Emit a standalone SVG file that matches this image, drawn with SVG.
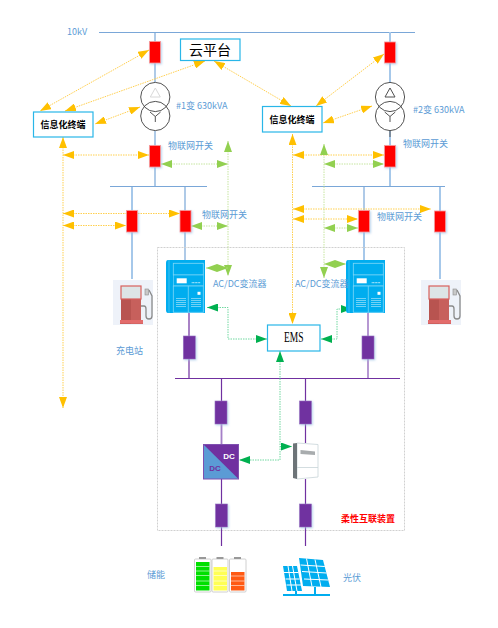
<svg xmlns="http://www.w3.org/2000/svg" xmlns:xlink="http://www.w3.org/1999/xlink" width="498" height="628" viewBox="0 0 498 628">
<style>
text{font-family:"Noto Sans CJK SC","Liberation Sans",sans-serif}
text.ser{font-family:"Liberation Serif",serif}
text.san{font-family:"Liberation Sans",sans-serif}
.lb{font-size:9px;fill:#5b9bd5}
.bl{fill:none;stroke:#7aa7d8;stroke-width:1.2}
.bw{fill:none;stroke:#a6c8ea;stroke-width:2}
.pl{fill:none;stroke:#7030a0;stroke-width:1.2}
.pw{fill:none;stroke:#a57fc8;stroke-width:1.6}
.red{fill:#ff0000;stroke:#f59a9a;stroke-width:.8;filter:url(#sh)}
.pu{fill:#7030a0;stroke:#9a70c0;stroke-width:.6;filter:url(#sh)}
.box{fill:#fff;stroke:#29b6e8;stroke-width:1.2}
.y{fill:none;stroke:#ffd050;stroke-width:1;stroke-dasharray:1.5 1;marker-start:url(#ay);marker-end:url(#ay)}
.g{fill:none;stroke:#c6e5a0;stroke-width:1;stroke-dasharray:1.5 1;marker-start:url(#ag);marker-end:url(#ag)}
.d{fill:none;stroke:#70d8a0;stroke-width:1;stroke-dasharray:1.5 1;marker-start:url(#ad);marker-end:url(#ad)}
.tr{fill:none;stroke:#404040;stroke-width:.9}
</style>
<defs>
<filter id="sh" x="-30%" y="-30%" width="170%" height="170%"><feDropShadow dx="1" dy="1" stdDeviation="1.2" flood-color="#9dc3e6" flood-opacity=".7"/></filter>
<marker id="ay" viewBox="0 0 11 8" refX="11" refY="4" markerWidth="11" markerHeight="8" markerUnits="userSpaceOnUse" orient="auto-start-reverse"><path d="M0 0L11 4L0 8Z" fill="#ffc000"/></marker>
<marker id="ag" viewBox="0 0 11 8" refX="11" refY="4" markerWidth="11" markerHeight="8" markerUnits="userSpaceOnUse" orient="auto-start-reverse"><path d="M0 0L11 4L0 8Z" fill="#92d050"/></marker>
<marker id="ad" viewBox="0 0 11 8" refX="11" refY="4" markerWidth="11" markerHeight="8" markerUnits="userSpaceOnUse" orient="auto-start-reverse"><path d="M0 0L11 4L0 8Z" fill="#00b050"/></marker>
<g id="cab">
<path d="M168 260H205V313H168Q166 313 166 310V263Q166 260 168 260Z" fill="#00adef"/>
<path d="M169 260V313" stroke="#4cc4f2" stroke-width=".8"/>
<rect x="173.3" y="263.3" width="30" height="11.7" fill="#00adef" stroke="#7fd8f8" stroke-width=".8"/>
<rect x="173.3" y="275" width="30" height="11" fill="#00adef" stroke="#7fd8f8" stroke-width=".6"/>
<rect x="176.7" y="278.3" width="10" height="5" fill="#fff"/>
<path d="M191.7 282.7H200.7" stroke="#d8f4ff" stroke-width="1" stroke-dasharray="1 .5"/>
<rect x="173.3" y="286" width="30" height="26.3" fill="#00adef" stroke="#7fd8f8" stroke-width=".8"/>
<path d="M188.3 286V312" stroke="#7fd8f8" stroke-width=".8"/>
<rect x="197.5" y="291.8" width="3" height="3" fill="#fff"/>
<path d="M176 298.5H186M176 300.5H186M176 302.5H186M176 304.5H186M176 306.5H186M191 298.5H201M191 300.5H201M191 302.5H201M191 304.5H201M191 306.5H201" stroke="#8fdcf8" stroke-width=".8"/>
</g>
<g id="pump">
<rect x="113" y="280" width="40" height="45" fill="#eef2f9"/>
<path d="M121 286H141V320H143V324H120V320H121Z" fill="#b85450"/>
<path d="M131 286H141V320H143V324H131Z" fill="#c7605c"/>
<rect x="120" y="320" width="23" height="3.5" fill="#e36c6c"/>
<rect x="121" y="286" width="20" height="13" fill="#dde5e6" stroke="#d9605c" stroke-width="1.2"/>
<path d="M141 306H144Q146 306 146 309V316Q146 319 149 319Q152 319 152 316V296L149 290" fill="none" stroke="#8a8a8a" stroke-width="1.3"/>
<rect x="145" y="289" width="3.5" height="6" fill="#c8c8c8" stroke="#8a8a8a" stroke-width=".6"/>
</g>
</defs>
<rect width="498" height="628" fill="#fff"/>

<g id="connectors">
<path class="bl" d="M99 32.5H415M110 186.5H207M312 186.5H445"/>
<path class="bl" d="M155 32V82M155 131V186M185 186V260"/>
<path class="bw" d="M132 187V279"/>
<path class="bw" d="M390 32V82M390 131V186M440 187V279M364 232V260"/>
<path class="bl" d="M364 187V210"/>
<path d="M390 131V137" stroke="#555" stroke-width="1"/>
<rect x="157.5" y="247.5" width="247" height="283" fill="none" stroke="#d0d0d0" stroke-width="1" stroke-dasharray="2 1"/>
<path class="pl" d="M189 313V378M175 378.5H400M221.500 378V444M305.500 378V443M221.500 479V546M305.500 479V546"/>
<path class="pw" d="M368 313V378M221.500 424V444"/>
<path class="y" d="M149 50L40 111"/>
<path class="y" d="M205 61L65 111"/>
<path class="y" d="M140 107L95 124"/>
<path class="y" d="M63 137V408"/>
<path class="y" d="M63 155H149"/>
<path class="y" d="M63 213.500H180"/>
<path class="y" d="M63 225.500H126"/>
<path class="y" d="M214 61L291 106"/>
<path class="y" d="M384 54L316 106"/>
<path class="y" d="M372 106L323 123"/>
<path class="y" d="M292.500 134V324"/>
<path class="y" d="M293 155H384"/>
<path class="y" d="M293 209H431"/>
<path class="y" d="M293 219H358"/>
<path class="g" d="M228 141V276"/>
<path class="g" d="M161 164H228"/>
<path class="g" d="M191 226H228"/>
<path class="g" d="M206 268H228"/>
<path class="g" d="M324 144V278"/>
<path class="g" d="M324 164H384"/>
<path class="g" d="M324 228H358"/>
<path class="g" d="M324 264H346"/>
<path class="d" d="M207 307.500H228V339H267"/>
<path class="d" d="M321 339H337V309H352"/>
<path class="d" d="M280 351V460H239"/>
<path class="d" d="M280 446.500H292" style="marker-start:none"/>
</g>

<g id="cloud"><rect class="box" x="180.500" y="39" width="59.500" height="21.500" stroke-width="1.500"/><text x="210" y="55" text-anchor="middle" font-size="14" fill="#000">云平台</text></g>
<g id="terminal-1"><rect class="box" x="33.500" y="112" width="59.500" height="25"/><text x="63" y="127.500" text-anchor="middle" font-size="9" font-weight="700" fill="#000">信息化终端</text></g>
<g id="terminal-2"><rect class="box" x="262.500" y="106.500" width="59.500" height="25.500"/><text x="292" y="123" text-anchor="middle" font-size="9" font-weight="700" fill="#000">信息化终端</text></g>
<g id="ems"><rect class="box" x="267.500" y="325" width="52.500" height="26"/><text class="ser" x="284" y="342" font-size="14" textLength="19.500" lengthAdjust="spacingAndGlyphs" fill="#000">EMS</text></g>

<g id="switch-1"><rect class="red" x="149.500" y="41.500" width="11" height="21.500"/></g>
<g id="switch-2"><rect class="red" x="384.500" y="42" width="11" height="21"/></g>
<g id="switch-3"><rect class="red" x="149.500" y="145.500" width="11" height="21.500"/></g>
<g id="switch-4"><rect class="red" x="384.500" y="145.500" width="11" height="21.500"/></g>
<g id="switch-5"><rect class="red" x="126.500" y="210.500" width="11" height="21.500"/></g>
<g id="switch-6"><rect class="red" x="180" y="210.500" width="11" height="21.500"/></g>
<g id="switch-7"><rect class="red" x="358.500" y="210.500" width="11" height="21.500"/></g>
<g id="switch-8"><rect class="red" x="434.500" y="211" width="11" height="21"/></g>

<g id="transformer-1">
<circle class="tr" cx="155.300" cy="97" r="14.600"/><circle class="tr" cx="155.300" cy="116" r="14.600"/>
<path d="M155.300 88L150.300 97H160.300Z" fill="none" stroke="#d8d8d8" stroke-width="1"/>
<path class="tr" d="M150 112L155.300 116.500L160.600 112M155.300 116.500V122"/>
</g>
<g id="transformer-2">
<circle class="tr" cx="390" cy="97" r="14.600"/><circle class="tr" cx="390" cy="116" r="14.600"/>
<path d="M390 88L385 97H395Z" fill="none" stroke="#505050" stroke-width="1"/>
<path class="tr" d="M384.700 112L390 116.500L395.300 112M390 116.500V122"/>
</g>

<g id="cabinet-1"><use href="#cab"/></g>
<g id="cabinet-2"><use href="#cab" transform="translate(180 0)"/></g>
<g id="pump-1"><use href="#pump"/></g>
<g id="pump-2"><use href="#pump" transform="translate(308 0)"/></g>

<g id="breaker-1"><rect class="pu" x="183.300" y="336" width="12" height="23"/></g>
<g id="breaker-2"><rect class="pu" x="362" y="336" width="12" height="23"/></g>
<g id="breaker-3"><rect class="pu" x="215" y="401" width="12" height="23"/></g>
<g id="breaker-4"><rect class="pu" x="299.500" y="401" width="12" height="23"/></g>
<g id="breaker-5"><rect class="pu" x="215.500" y="504" width="12" height="23"/></g>
<g id="breaker-6"><rect class="pu" x="299.500" y="504" width="12" height="23"/></g>

<g id="dcdc">
<rect x="203.500" y="444.500" width="35" height="34.500" fill="#5b9bd5"/>
<path d="M203.500 444.500H238.500V479Z" fill="#7030a0"/>
<rect x="203.500" y="444.500" width="35" height="34.500" fill="none" stroke="#7f50b0" stroke-width="1"/>
<text class="san" x="229" y="459" text-anchor="middle" font-size="8" font-weight="700" fill="#fff">DC</text>
<text class="san" x="215" y="471" text-anchor="middle" font-size="8" font-weight="700" fill="#7030a0">DC</text>
</g>
<g id="meter">
<path d="M297 443L318 444.500V477L297 479Z" fill="#fff" stroke="#c8d4d8" stroke-width=".8"/>
<path d="M293 443.500L297 443V479L293 478Z" fill="#6d7478"/>
<path d="M300.500 450L315 451.500V455L300.500 454Z" fill="#a8acae"/>
<path d="M297 467.500H318" stroke="#c8d4d8" stroke-width=".8"/>
</g>
<g id="battery">
<g fill="#fff" stroke="#c4c4c4" stroke-width=".8">
<rect x="194.500" y="559" width="16.500" height="33" rx="1"/><rect x="212" y="559" width="16" height="33" rx="1"/><rect x="229.500" y="559" width="16.500" height="33" rx="1"/>
</g>
<path d="M199 558h7M216.500 558h7M234 558h7" stroke="#999" stroke-width="2"/>
<rect x="196" y="562" width="13.500" height="28.500" fill="#00e000"/>
<rect x="213.500" y="567" width="13.500" height="23.500" fill="#ffff55"/>
<rect x="231" y="572" width="13.500" height="18.500" fill="#ff5a14"/>
<path d="M196 566.500h13.500M196 571h13.500M196 575.500h13.500M196 581h13.500M196 585.500h13.500M213.500 571h13.500M213.500 575.500h13.500M213.500 581h13.500M213.500 585.500h13.500M231 576h13.500M231 581h13.500M231 585.500h13.500" stroke="#fff" stroke-width=".7" opacity=".8"/>
</g>
<g id="solar">
<path d="M299 558L323 560L330 587L303 586Z" fill="#00adef"/>
<path d="M283 566L297 566L302 591L287 591Z" fill="#00adef"/>
<path d="M306.500 558.500L312 586.500M315 559.500L321 587M300.500 565L324.800 566.500M302 571.500L326.500 573M304 579L328 580M288 566L292 591M292.500 566L297 591M284 572.500L298.500 572.500M285.500 579L299.500 579M286.500 585L301 585" stroke="#fff" stroke-width="1" fill="none"/>
<path d="M283 595H330" stroke="#00adef" stroke-width="2"/>
<path d="M296 591V595M315 587V595" stroke="#00adef" stroke-width="2"/>
</g>

<g id="labels">
<text class="lb" x="67" y="35">10kV</text>
<text class="lb" x="176" y="109">#1变 630kVA</text>
<text class="lb" x="413" y="113">#2变 630kVA</text>
<text class="lb" x="168" y="149">物联网开关</text>
<text class="lb" x="202" y="218">物联网开关</text>
<text class="lb" x="403" y="147">物联网开关</text>
<text class="lb" x="377" y="220">物联网开关</text>
<text class="lb" x="213" y="287">AC/DC变流器</text>
<text class="lb" x="295" y="287">AC/DC变流器</text>
<text class="lb" x="116" y="354">充电站</text>
<text class="lb" x="147" y="578">储能</text>
<text class="lb" x="343" y="581">光伏</text>
<text x="341" y="522" font-size="9" font-weight="700" fill="#ff0000">柔性互联装置</text>
</g>
</svg>
